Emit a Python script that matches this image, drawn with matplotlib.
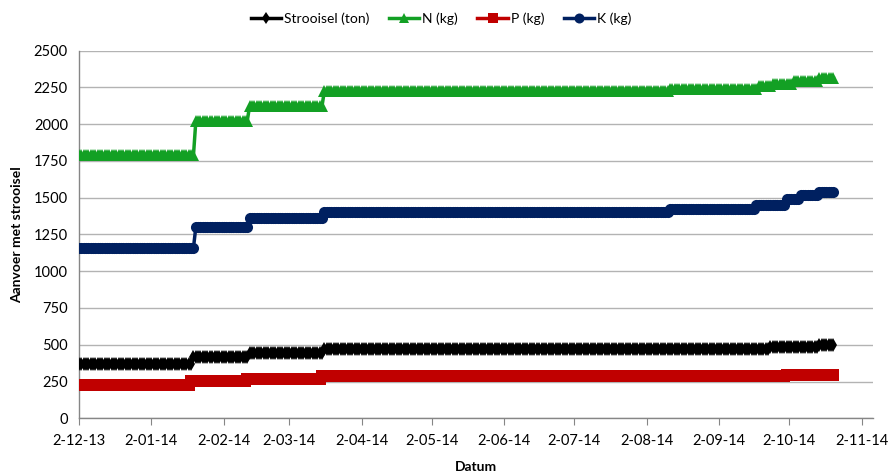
import numpy as np
import matplotlib
matplotlib.use("Agg")
import matplotlib.pyplot as plt
import matplotlib.dates as mdates
import datetime as dt

plt.rcParams['font.family'] = ['Lato', 'DejaVu Sans']

# ---- data: step levels (day offset from 2-12-13 where each level starts)
start_date = dt.date(2013, 12, 2)
last_day = 323

strooisel_days = [0, 49, 73, 105, 296, 317]
strooisel_vals = [367, 418, 441, 473, 485, 495]

n_days = [0, 50, 73, 105, 253, 291, 297, 306, 317]
n_vals = [1790, 2020, 2120, 2222, 2238, 2260, 2272, 2296, 2312]

p_days = [0, 48, 72, 104, 303]
p_vals = [226, 253, 268, 287, 294]

k_days = [0, 50, 73, 105, 253, 290, 303, 309, 317]
k_vals = [1160, 1300, 1360, 1405, 1425, 1452, 1490, 1517, 1541]

series_names = ["Strooisel (ton)", "N (kg)", "P (kg)", "K (kg)"]
tick_labels = ["2-12-13", "2-01-14", "2-02-14", "2-03-14", "2-04-14", "2-05-14",
               "2-06-14", "2-07-14", "2-08-14", "2-09-14", "2-10-14", "2-11-14"]


def expand(days, vals):
    days = list(days) + [last_day + 1]
    counts = np.diff(days)
    return np.repeat(vals, counts)


dates = [start_date + dt.timedelta(days=i) for i in range(last_day + 1)]

fig = plt.figure(figsize=(8.91, 4.72), dpi=100)
ax = fig.add_axes([0.0887, 0.1138, 0.8913, 0.779])

styles = [
    dict(color="#000000", marker="d", markersize=7, lw=2.5),
    dict(color="#13A024", marker="^", markersize=8, lw=2.5),
    dict(color="#C00000", marker="s", markersize=8, lw=2.5),
    dict(color="#002060", marker="o", markersize=8, lw=2.5),
]
data = [(strooisel_days, strooisel_vals), (n_days, n_vals), (p_days, p_vals), (k_days, k_vals)]
for (d, v), name, st in zip(data, series_names, styles):
    ax.plot(dates, expand(d, v), label=name, color=st["color"], marker=st["marker"],
            markersize=st["markersize"], lw=st["lw"], markeredgewidth=0, zorder=3)

ax.set_ylim(0, 2500)
ax.set_yticks(np.arange(0, 2501, 250))
ax.set_xlim(mdates.date2num(start_date), mdates.date2num(start_date) + 340)
tick_dates = [dt.date(2013, 12, 2)] + [dt.date(2014, m, 2) for m in range(1, 12)]
ax.set_xticks(mdates.date2num(tick_dates))
ax.set_xticklabels(tick_labels)

ax.grid(axis="y", color="#B3B3B3", lw=1)
ax.set_axisbelow(True)
for s in ["top", "right"]:
    ax.spines[s].set_visible(False)
for s in ["left", "bottom"]:
    ax.spines[s].set_color("#868686")
    ax.spines[s].set_linewidth(1)
ax.tick_params(axis="x", direction="out", length=5, color="#868686", labelsize=10.5, pad=6)
ax.tick_params(axis="y", length=0, labelsize=10.5, pad=8)

ax.set_ylabel("Aanvoer met strooisel", fontsize=10, fontweight="bold", labelpad=8)
ax.set_xlabel("Datum", fontsize=10, fontweight="bold", labelpad=10)

fig.legend(loc="upper center", bbox_to_anchor=(0.495, 1.0), ncol=4, frameon=False,
           fontsize=10, handlelength=2.2, columnspacing=1.4, handletextpad=0.2,
           markerscale=0.9)

fig.savefig("out.png", dpi=100)
